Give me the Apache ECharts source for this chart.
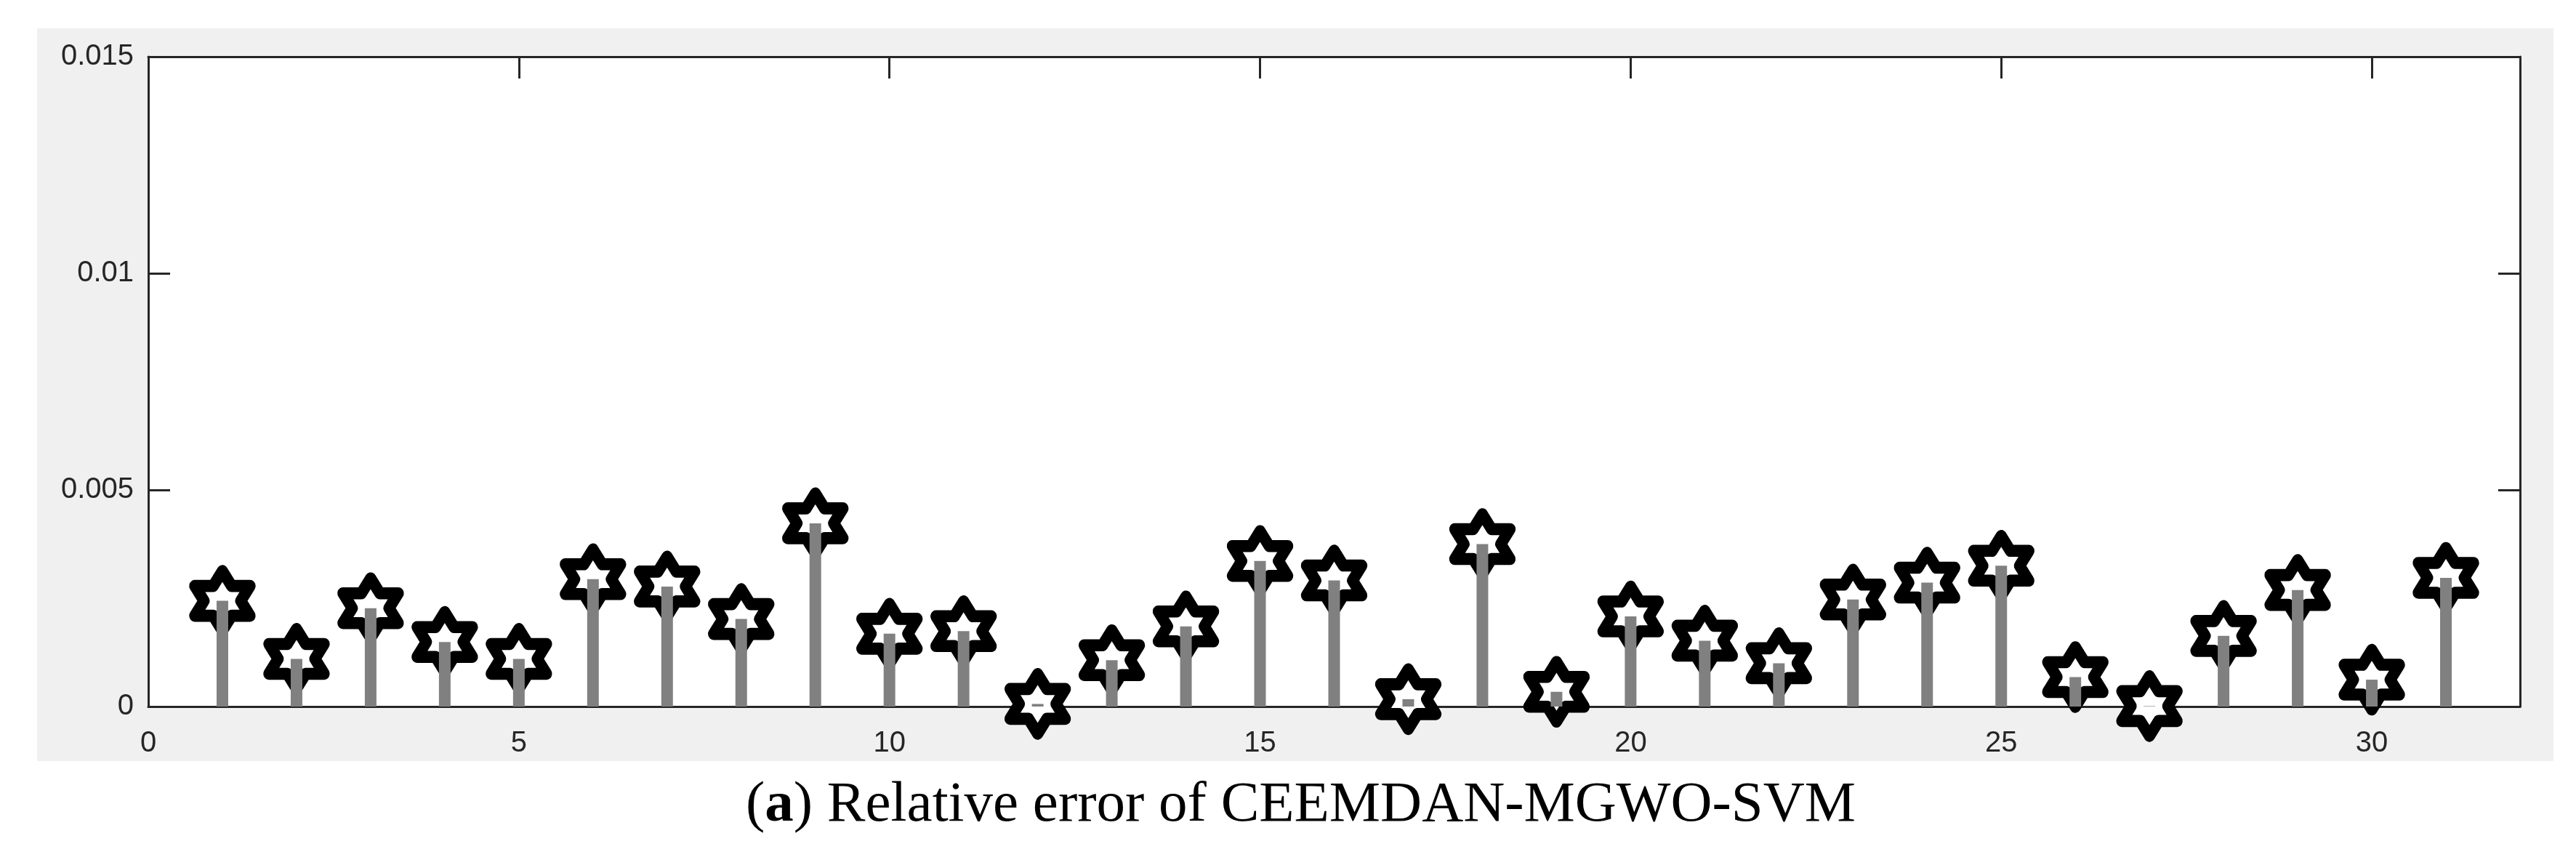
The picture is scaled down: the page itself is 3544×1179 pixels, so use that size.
<!DOCTYPE html>
<html>
<head>
<meta charset="utf-8">
<script src="https://cdn.jsdelivr.net/npm/echarts@6/dist/echarts.min.js"></script>
<style>
html, body { margin: 0; padding: 0; background: #fff; }
#panel { position: absolute; left: 51px; top: 39px; width: 3462px; height: 1008px; background: #f0f0f0; }
#chart { position: absolute; left: 0; top: 0; width: 3544px; height: 1179px; }
</style>
</head>
<body>
<div id="panel"></div>
<div id="chart"></div>
<script>
// sample index and relative error
var sampleNo = [1, 2, 3, 4, 5, 6, 7, 8, 9, 10, 11, 12, 13, 14, 15, 16,
    17, 18, 19, 20, 21, 22, 23, 24, 25, 26, 27, 28, 29, 30, 31];
var relErr = [0.00244, 0.00110, 0.00227, 0.00149, 0.00110, 0.00294, 0.00277, 0.00202,
    0.00423, 0.00168, 0.00174, 0.00006, 0.00107, 0.00185, 0.00336, 0.00291,
    0.00017, 0.00375, 0.00034, 0.00208, 0.00152, 0.00100, 0.00247, 0.00286,
    0.00325, 0.00068, 0.00001, 0.00163, 0.00269, 0.00062, 0.00297];
var xTicks = [0, 5, 10, 15, 20, 25, 30];
var yTicks = [0, 0.005, 0.01, 0.015];
var caption = '({b|a}) Relative error of CEEMDAN-MGWO-SVM';

var dom = document.getElementById('chart');
var myChart = echarts.init(dom, null, {
    renderer: 'canvas',
    useDirtyRect: false
});

var points = sampleNo.map(function (x, i) { return [x, relErr[i]]; });
var hexagram = 'path://M866 0L1155 500L1732 500L1443 1000L1732 1500L1155 1500L866 2000L577 1500L0 1500L289 1000L0 500L577 500Z';

var axisColor = '#262626';
var lineStyle = { color: axisColor, width: 3 };
var tickStyle = { show: true, inside: true, length: 30, lineStyle: lineStyle };
var labelStyle = { color: axisColor, fontSize: 40, fontFamily: 'Liberation Sans' };

var option = {
    animation: false,
    title: {
        text: caption,
        left: 1021,
        top: 1064,
        textStyle: {
            fontFamily: 'Liberation Serif',
            fontSize: 79,
            fontWeight: 'normal',
            color: '#000',
            rich: {
                b: { fontFamily: 'Liberation Serif', fontSize: 79, fontWeight: 'bold', color: '#000' }
            }
        }
    },
    grid: {
        left: 204, top: 78, right: 77, bottom: 207,
        show: true, backgroundColor: '#fff', borderWidth: 0
    },
    xAxis: [{
        type: 'value', min: xTicks[0], max: 32, interval: 5, position: 'bottom',
        axisLine: { show: true, onZero: false, lineStyle: lineStyle },
        axisTick: tickStyle,
        axisLabel: Object.assign({ margin: 31, showMaxLabel: false }, labelStyle),
        splitLine: { show: false }
    }, {
        type: 'value', min: xTicks[0], max: 32, interval: 5, position: 'top',
        axisLine: { show: true, onZero: false, lineStyle: lineStyle },
        axisTick: tickStyle,
        axisLabel: { show: false },
        splitLine: { show: false }
    }],
    yAxis: [{
        type: 'value', min: yTicks[0], max: yTicks[yTicks.length - 1], interval: 0.005, position: 'left',
        axisLine: { show: true, onZero: false, lineStyle: lineStyle },
        axisTick: tickStyle,
        axisLabel: Object.assign({ margin: 20 }, labelStyle),
        splitLine: { show: false }
    }, {
        type: 'value', min: yTicks[0], max: yTicks[yTicks.length - 1], interval: 0.005, position: 'right',
        axisLine: { show: true, onZero: false, lineStyle: lineStyle },
        axisTick: tickStyle,
        axisLabel: { show: false },
        splitLine: { show: false }
    }],
    series: [{
        type: 'scatter',
        silent: true,
        z: 2,
        symbol: hexagram,
        symbolSize: [76, 82],
        itemStyle: { color: '#fff', borderColor: '#000', borderWidth: 16, borderJoin: 'round', opacity: 1 },
        data: points
    }, {
        type: 'bar',
        silent: true,
        z: 3,
        barWidth: 16,
        itemStyle: { color: '#808080', opacity: 1 },
        data: points
    }]
};

if (option && typeof option === 'object') {
    myChart.setOption(option);
}

window.addEventListener('resize', myChart.resize);
</script>
</body>
</html>
